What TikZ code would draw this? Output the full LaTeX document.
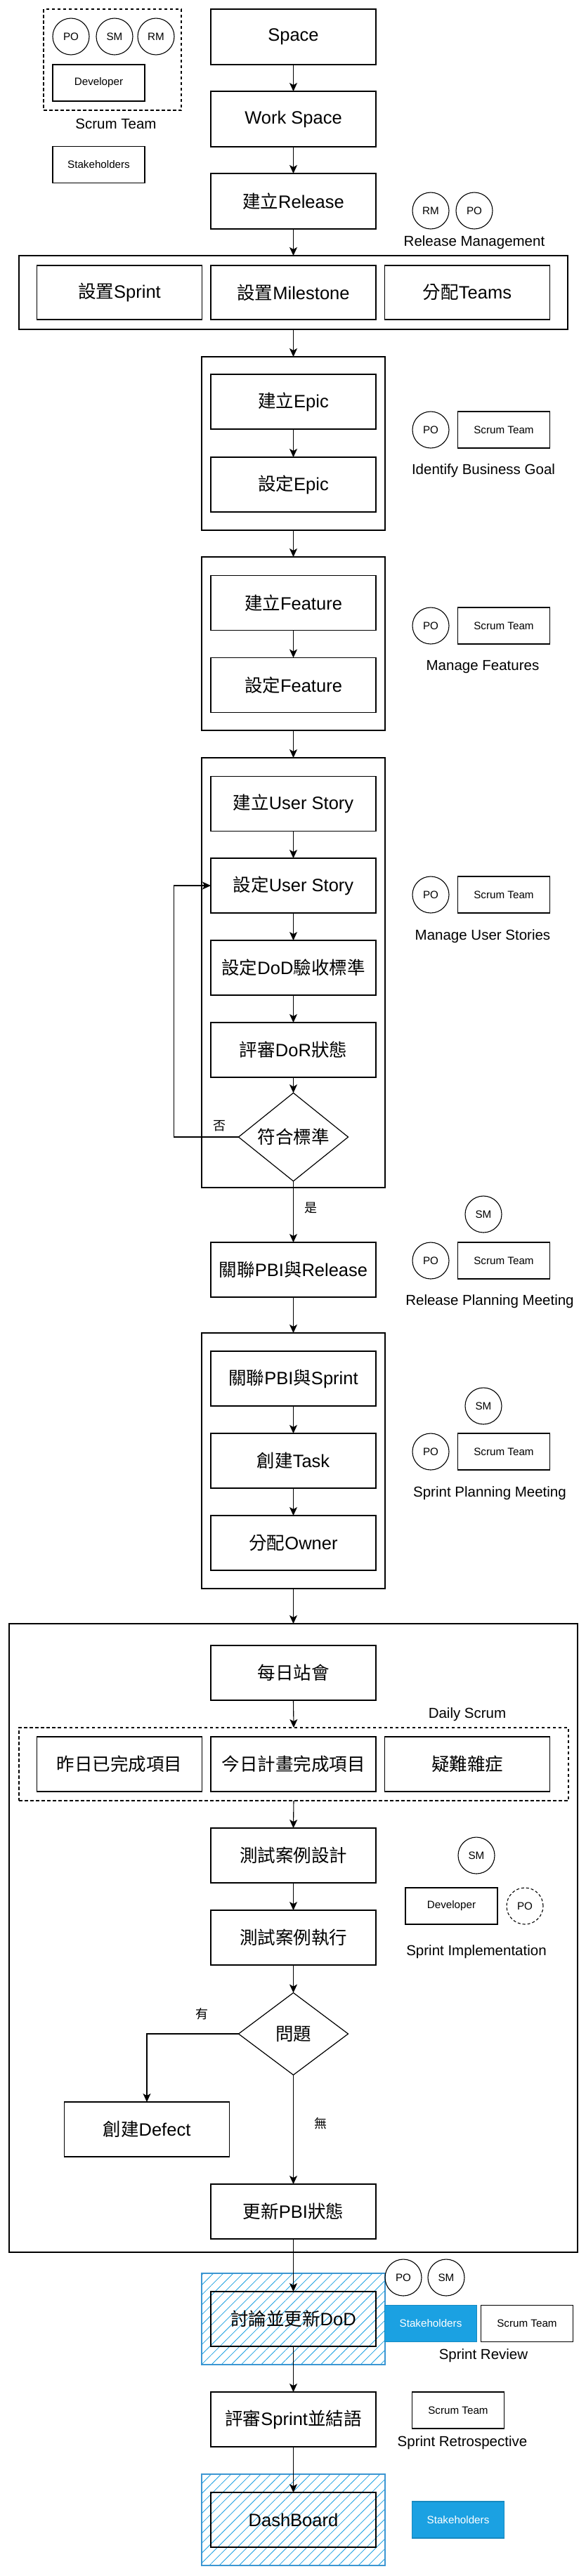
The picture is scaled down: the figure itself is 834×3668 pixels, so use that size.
\documentclass[tikz,border=0pt]{standalone}
\usepackage{fontspec}
\setmainfont{Liberation Sans}
\newfontfamily\cjk{Noto Sans CJK TC}
\newcommand\zh[1]{{\cjk #1}}
\usetikzlibrary{arrows.meta,shapes.geometric,patterns.meta}
\definecolor{hatchblue}{RGB}{27,161,226}
\definecolor{hatchedge}{RGB}{60,150,210}
\newcommand\mainfs{\fontsize{25.5}{30}\selectfont}
\newcommand\lblfs{\fontsize{20.5}{24}\selectfont}
\newcommand\smallfs{\fontsize{15.2}{18}\selectfont}
\newcommand\ynfs{\fontsize{18}{22}\selectfont}
\begin{document}
\begin{tikzpicture}[x=1pt,y=-1pt,
 every node/.style={inner sep=0pt, outer sep=0pt},
 box/.style={draw, line width=1.2pt, minimum width=235pt, minimum height=78pt, font=\mainfs},
 cont/.style={draw, line width=1.2pt},
 role/.style={draw, circle, line width=1.1pt, minimum size=52pt, font=\smallfs},
 small/.style={draw, line width=1.1pt, minimum width=131pt, minimum height=52pt, font=\smallfs},
 stake/.style={small, fill=hatchblue, draw=hatchblue!85!black, text=white},
 lbl/.style={font=\lblfs},
 yn/.style={font=\ynfs\cjk},
 dec/.style={draw, diamond, line width=1.2pt, minimum width=156pt, minimum height=116pt, font=\mainfs},
 arr/.style={-{Stealth[length=12pt,width=11pt,inset=3pt]}, line width=1.1pt},
 hatch/.style={draw=hatchedge, line width=1.1pt, pattern={Lines[angle=45,distance=10pt,line width=0.8pt]}, pattern color=hatchblue},
 dashbox/.style={draw, line width=1.1pt, dash pattern=on 4.5pt off 3.5pt},
]
\useasboundingbox (0,0) rectangle (834,3668);
\fill[white] (0,0) rectangle (834,3668);

% ---- legend (top left)
\node[dashbox, minimum width=196pt, minimum height=144pt] (stC) at (160,85) {};
\node[role] (lpo) at (101,52) {PO};
\node[role] (lsm) at (163,52) {SM};
\node[role] (lrm) at (222,52) {RM};
\node[small] (ldev) at (140.5,118) {Developer};
\node[lbl] (lst) at (165,176) {Scrum Team};
\node[small] (lsh) at (140.5,234.5) {Stakeholders};

% ---- top chain
\node[box, minimum height=79pt] (space) at (417.5,52.5) {Space};
\node[box, minimum height=79pt] (wspace) at (417.5,169.5) {Work Space};
\node[box, minimum height=79pt] (rel) at (417.5,286.5) {\zh{建立}Release};
\node[role] (rrm) at (613,300) {RM};
\node[role] (rpo) at (675,300) {PO};
\node[lbl] (rmlbl) at (675,345) {Release Management};

\node[cont, minimum width=781pt, minimum height=105pt] (big1) at (417.5,416.5) {};
\node[box, minimum height=77pt] (ssp) at (170,416.5) {\zh{設置}Sprint};
\node[box, minimum height=77pt] (sms) at (417.5,416.5) {\zh{設置}Milestone};
\node[box, minimum height=77pt] (steam) at (665,416.5) {\zh{分配}Teams};

% ---- epic
\node[cont, minimum width=261pt, minimum height=247pt] (epicC) at (417.5,631.5) {};
\node[box] (epic1) at (417.5,572) {\zh{建立}Epic};
\node[box] (epic2) at (417.5,690) {\zh{設定}Epic};
\node[role] (epo) at (613,612) {PO};
\node[small] (est) at (717,612) {Scrum Team};
\node[lbl] (elbl) at (688,670) {Identify Business Goal};

% ---- feature
\node[cont, minimum width=261pt, minimum height=247pt] (featC) at (417.5,916.5) {};
\node[box] (feat1) at (417.5,858.5) {\zh{建立}Feature};
\node[box] (feat2) at (417.5,975.5) {\zh{設定}Feature};
\node[role] (fpo) at (613,891) {PO};
\node[small] (fst) at (717,891) {Scrum Team};
\node[lbl] (flbl) at (687,950) {Manage Features};

% ---- user story
\node[cont, minimum width=261pt, minimum height=612pt] (usC) at (417.5,1385) {};
\node[box] (us1) at (417.5,1144.5) {\zh{建立}User Story};
\node[box] (us2) at (417.5,1261) {\zh{設定}User Story};
\node[box] (dod) at (417.5,1378) {\zh{設定}DoD\zh{驗收標準}};
\node[box] (dor) at (417.5,1495) {\zh{評審}DoR\zh{狀態}};
\node[dec] (dec1) at (417.5,1619) {\zh{符合標準}};
\node[yn] (no1) at (312,1603) {否};
\node[yn] (yes1) at (442,1720) {是};
\node[role] (upo) at (613,1274) {PO};
\node[small] (ust) at (717,1274) {Scrum Team};
\node[lbl] (ulbl) at (687,1333) {Manage User Stories};

% ---- release planning
\node[box] (pbirel) at (417.5,1808) {\zh{關聯}PBI\zh{與}Release};
\node[role] (rpsm) at (688,1729) {SM};
\node[role] (rppo) at (613,1795) {PO};
\node[small] (rpst) at (717,1795) {Scrum Team};
\node[lbl] (rplbl) at (697,1853) {Release Planning Meeting};

% ---- sprint planning
\node[cont, minimum width=261pt, minimum height=364pt] (sprC) at (417.5,2080) {};
\node[box] (pbispr) at (417.5,1963) {\zh{關聯}PBI\zh{與}Sprint};
\node[box] (task) at (417.5,2080) {\zh{創建}Task};
\node[box] (owner) at (417.5,2197) {\zh{分配}Owner};
\node[role] (spsm) at (688,2002) {SM};
\node[role] (sppo) at (613,2067) {PO};
\node[small] (spst) at (717,2067) {Scrum Team};
\node[lbl] (splbl) at (697,2126) {Sprint Planning Meeting};

% ---- sprint implementation
\node[cont, minimum width=809pt, minimum height=895pt] (big2) at (417.5,2759.5) {};
\node[box] (daily) at (417.5,2382) {\zh{每日站會}};
\node[lbl] (dslbl) at (665,2441) {Daily Scrum};
\node[dashbox, minimum width=782pt, minimum height=104pt] (dsC) at (418,2512) {};
\node[box] (yest) at (170,2512) {\zh{昨日已完成項目}};
\node[box] (today) at (417.5,2512) {\zh{今日計畫完成項目}};
\node[box] (issue) at (665,2512) {\zh{疑難雜症}};
\node[box] (tcd) at (417.5,2642) {\zh{測試案例設計}};
\node[box] (tce) at (417.5,2759) {\zh{測試案例執行}};
\node[role] (ism) at (678,2642) {SM};
\node[small] (idev) at (642.5,2714) {Developer};
\node[role, dash pattern=on 4pt off 3pt] (ipo) at (747,2714) {PO};
\node[lbl] (ilbl) at (678,2779) {Sprint Implementation};
\node[dec, minimum height=117pt] (dec2) at (417.5,2896) {\zh{問題}};
\node[yn] (have) at (287,2868) {有};
\node[box] (defect) at (209,3032) {\zh{創建}Defect};
\node[yn] (none) at (456,3024) {無};
\node[box] (upd) at (417.5,3149) {\zh{更新}PBI\zh{狀態}};

% ---- sprint review
\node[hatch, minimum width=261pt, minimum height=130pt] (hC1) at (417.5,3302) {};
\node[box] (ddod) at (417.5,3302) {\zh{討論並更新}DoD};
\node[role] (rvpo) at (574,3243) {PO};
\node[role] (rvsm) at (635,3243) {SM};
\node[stake] (rvsh) at (613,3308.5) {Stakeholders};
\node[small] (rvst) at (750,3308.5) {Scrum Team};
\node[lbl] (rvlbl) at (688,3354) {Sprint Review};

% ---- retrospective
\node[box] (retro) at (417.5,3445) {\zh{評審}Sprint\zh{並結語}};
\node[small] (rtst) at (652,3432) {Scrum Team};
\node[lbl] (rtlbl) at (658,3478) {Sprint Retrospective};

% ---- dashboard
\node[hatch, minimum width=261pt, minimum height=130pt] (hC2) at (417.5,3588) {};
\node[box] (dash) at (417.5,3588) {DashBoard};
\node[stake] (dbsh) at (652,3588) {Stakeholders};

% ---- connectors
\draw[arr] (space.south) -- (wspace.north);
\draw[arr] (wspace.south) -- (rel.north);
\draw[arr] (rel.south) -- (big1.north);
\draw[arr] (big1.south) -- (epicC.north);
\draw[arr] (epic1.south) -- (epic2.north);
\draw[arr] (epicC.south) -- (featC.north);
\draw[arr] (feat1.south) -- (feat2.north);
\draw[arr] (featC.south) -- (usC.north);
\draw[arr] (us1.south) -- (us2.north);
\draw[arr] (us2.south) -- (dod.north);
\draw[arr] (dod.south) -- (dor.north);
\draw[arr] (dor.south) -- (dec1.north);
\draw[arr] (dec1.west) -- ++(-92,0) |- (us2.west);
\draw[arr] (dec1.south) -- (pbirel.north);
\draw[arr] (pbirel.south) -- (sprC.north);
\draw[arr] (pbispr.south) -- (task.north);
\draw[arr] (task.south) -- (owner.north);
\draw[arr] (sprC.south) -- (big2.north);
\draw[arr] (daily.south) -- (dsC.north);
\draw[arr] (dsC.south) -- (tcd.north);
\draw[arr] (tcd.south) -- (tce.north);
\draw[arr] (tce.south) -- (dec2.north);
\draw[arr] (dec2.west) -| (defect.north);
\draw[arr] (dec2.south) -- (upd.north);
\draw[arr] (upd.south) -- (ddod.north);
\draw[arr] (ddod.south) -- (retro.north);
\draw[arr] (retro.south) -- (dash.north);
\end{tikzpicture}
\end{document}
